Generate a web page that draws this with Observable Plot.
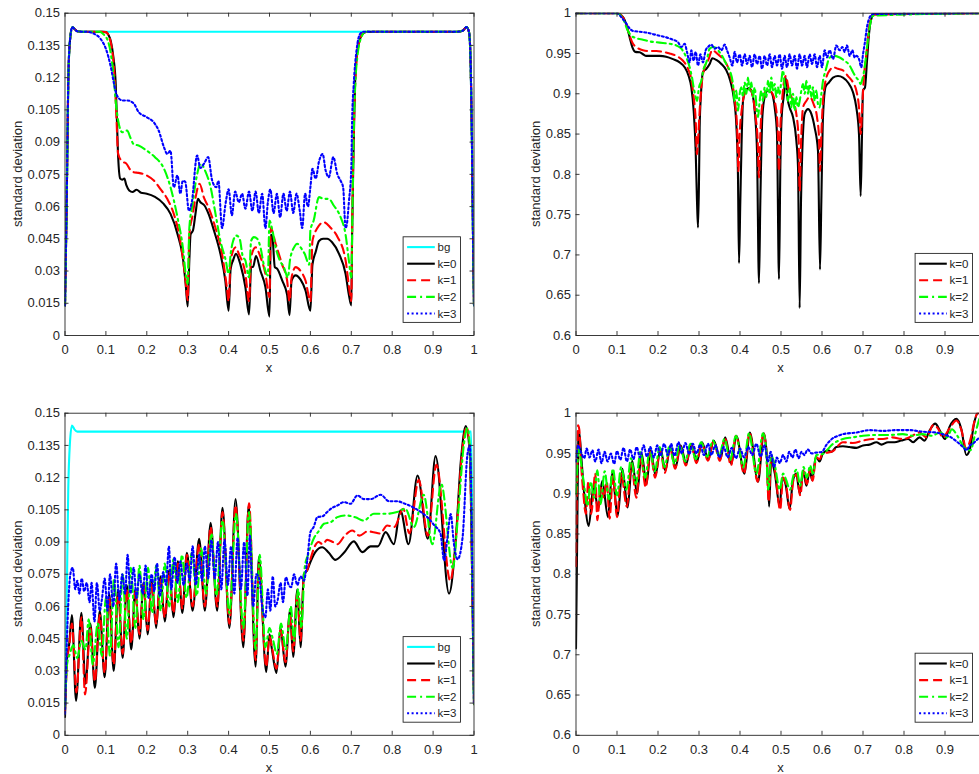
<!DOCTYPE html>
<html><head><meta charset="utf-8">
<script src="https://cdn.jsdelivr.net/npm/d3@7"></script>
<script src="https://cdn.jsdelivr.net/npm/@observablehq/plot@0.6"></script>
<style>
html,body{margin:0;padding:0;background:#fff;overflow:hidden;}
#root{position:relative;width:979px;height:774px;overflow:hidden;background:#fff;}
</style></head><body><div id="root"></div>
<script>
// ---------- tick labels ----------
const xTicks = [0,0.1,0.2,0.3,0.4,0.5,0.6,0.7,0.8,0.9,1];
const yTicksSmall = [0,0.015,0.03,0.045,0.06,0.075,0.09,0.105,0.12,0.135,0.15];
const yTicksLarge = [0.6,0.65,0.7,0.75,0.8,0.85,0.9,0.95,1];
const legendFull = ["bg","k=0","k=1","k=2","k=3"];
const legendK = ["k=0","k=1","k=2","k=3"];

// ---------- top-left panel ----------
const tlLeft = [[0,0.014],[0.004,0.06],[0.008,0.118],[0.012,0.137],[0.018,0.1435],[0.024,0.1425],[0.03,0.1416],[0.04,0.1414]];
const tlRight = [[0.96,0.1414],[0.972,0.1418],[0.982,0.1435],[0.988,0.141],[0.992,0.125],[0.995,0.09],[0.998,0.04],[1,0.014]];
const tlBg = [[0.5,0.1414]];
const tlK0 = [[0.09,0.1414],[0.1,0.1412],[0.106,0.140],[0.112,0.137],[0.118,0.130],[0.124,0.117],[0.127,0.100],[0.13,0.083],[0.135,0.073],[0.14,0.0725],[0.145,0.073],[0.15,0.070],[0.157,0.0675],[0.165,0.0668],[0.175,0.0678],[0.186,0.0664],[0.2,0.066],[0.22,0.0645],[0.24,0.0615],[0.258,0.0566],[0.275,0.0473],[0.289,0.035],[0.295,0.024],[0.3,0.0135],[0.304,0.035],[0.307,0.047],[0.313,0.049],[0.319,0.0566],[0.325,0.0636],[0.331,0.062],[0.341,0.0605],[0.351,0.0566],[0.364,0.049],[0.38,0.038],[0.392,0.0256],[0.4,0.0115],[0.405,0.031],[0.411,0.035],[0.418,0.038],[0.429,0.033],[0.441,0.0225],[0.45,0.0098],[0.455,0.0318],[0.46,0.032],[0.467,0.037],[0.478,0.030],[0.49,0.0225],[0.5,0.0088],[0.503,0.047],[0.507,0.046],[0.513,0.0318],[0.519,0.031],[0.531,0.0256],[0.543,0.019],[0.549,0.0095],[0.554,0.0256],[0.564,0.028],[0.576,0.026],[0.588,0.021],[0.6,0.0115],[0.605,0.033],[0.613,0.039],[0.621,0.044],[0.631,0.045],[0.641,0.045],[0.653,0.0434],[0.67,0.038],[0.686,0.0287],[0.694,0.019],[0.7,0.014],[0.702,0.047],[0.705,0.081],[0.708,0.109],[0.711,0.125],[0.718,0.1357],[0.73,0.1407],[0.74,0.1414]];
const tlK1 = [[0.09,0.1414],[0.1,0.1412],[0.108,0.139],[0.115,0.133],[0.12,0.124],[0.125,0.105],[0.13,0.0845],[0.14,0.081],[0.15,0.080],[0.16,0.077],[0.168,0.076],[0.18,0.0757],[0.2,0.0745],[0.218,0.072],[0.234,0.068],[0.25,0.0636],[0.266,0.0566],[0.282,0.044],[0.294,0.027],[0.3,0.0165],[0.304,0.047],[0.312,0.056],[0.319,0.064],[0.329,0.0706],[0.34,0.064],[0.35,0.060],[0.368,0.050],[0.384,0.038],[0.396,0.022],[0.4,0.016],[0.405,0.035],[0.417,0.041],[0.425,0.038],[0.441,0.0287],[0.45,0.016],[0.455,0.0365],[0.466,0.041],[0.478,0.0365],[0.49,0.0287],[0.5,0.0178],[0.503,0.050],[0.515,0.0427],[0.531,0.033],[0.543,0.0256],[0.549,0.016],[0.554,0.027],[0.564,0.0318],[0.576,0.030],[0.588,0.0256],[0.6,0.016],[0.605,0.044],[0.617,0.050],[0.633,0.0527],[0.65,0.050],[0.666,0.046],[0.686,0.035],[0.697,0.019],[0.7,0.016],[0.702,0.05],[0.705,0.085],[0.708,0.11],[0.712,0.126],[0.72,0.137],[0.73,0.1408],[0.74,0.1414]];
const tlK2 = [[0.085,0.1414],[0.095,0.140],[0.105,0.137],[0.113,0.130],[0.12,0.118],[0.124,0.109],[0.13,0.100],[0.14,0.0946],[0.152,0.0954],[0.16,0.092],[0.168,0.089],[0.18,0.0884],[0.2,0.086],[0.22,0.083],[0.242,0.0776],[0.258,0.069],[0.275,0.055],[0.289,0.0396],[0.295,0.0287],[0.3,0.024],[0.304,0.050],[0.312,0.0613],[0.323,0.075],[0.332,0.080],[0.344,0.076],[0.356,0.069],[0.368,0.0566],[0.38,0.044],[0.393,0.035],[0.4,0.0287],[0.405,0.038],[0.411,0.044],[0.419,0.0465],[0.427,0.045],[0.435,0.0365],[0.441,0.035],[0.45,0.027],[0.455,0.044],[0.462,0.0458],[0.47,0.045],[0.478,0.041],[0.486,0.033],[0.496,0.028],[0.5,0.0535],[0.507,0.049],[0.515,0.041],[0.525,0.035],[0.535,0.0318],[0.545,0.027],[0.55,0.035],[0.56,0.041],[0.568,0.0427],[0.576,0.041],[0.586,0.038],[0.597,0.033],[0.6,0.049],[0.608,0.0535],[0.621,0.0644],[0.633,0.0636],[0.645,0.0636],[0.657,0.0605],[0.674,0.055],[0.686,0.047],[0.694,0.035],[0.7,0.027],[0.703,0.06],[0.706,0.095],[0.71,0.118],[0.715,0.130],[0.725,0.139],[0.735,0.1414]];
const tlK3 = [[0.05,0.1414],[0.07,0.1405],[0.087,0.138],[0.1,0.1334],[0.112,0.125],[0.12,0.117],[0.127,0.1117],[0.14,0.1094],[0.152,0.1094],[0.168,0.108],[0.18,0.104],[0.2,0.1016],[0.218,0.099],[0.229,0.0954],[0.242,0.0876],[0.25,0.0845],[0.258,0.086],[0.266,0.069],[0.275,0.0745],[0.282,0.066],[0.288,0.072],[0.294,0.0715],[0.303,0.058],[0.31,0.062],[0.323,0.0838],[0.331,0.078],[0.34,0.080],[0.35,0.083],[0.36,0.072],[0.37,0.069],[0.375,0.072],[0.384,0.050],[0.393,0.062],[0.4,0.068],[0.408,0.056],[0.416,0.067],[0.425,0.062],[0.433,0.066],[0.441,0.059],[0.45,0.067],[0.458,0.058],[0.466,0.067],[0.474,0.057],[0.482,0.066],[0.49,0.050],[0.496,0.062],[0.502,0.068],[0.51,0.057],[0.518,0.066],[0.526,0.055],[0.534,0.066],[0.542,0.058],[0.55,0.067],[0.558,0.057],[0.566,0.066],[0.574,0.058],[0.58,0.050],[0.587,0.066],[0.594,0.060],[0.6,0.069],[0.605,0.0776],[0.613,0.073],[0.621,0.081],[0.63,0.0845],[0.637,0.077],[0.645,0.0737],[0.656,0.083],[0.666,0.075],[0.674,0.072],[0.68,0.069],[0.686,0.050],[0.69,0.053],[0.694,0.062],[0.7,0.078],[0.702,0.10],[0.706,0.117],[0.713,0.133],[0.722,0.1405],[0.73,0.1414]];

// ---------- top-right panel ----------
const trLeft = [[0,1]];
const trRight = [[1,1]];
const trK0 = [[0.1,1.0],[0.1146,0.995],[0.1244,0.983],[0.1309,0.970],[0.1374,0.958],[0.1447,0.952],[0.1553,0.9515],[0.1634,0.949],[0.1715,0.947],[0.188,0.947],[0.204,0.947],[0.22,0.946],[0.2366,0.943],[0.2528,0.939],[0.265,0.933],[0.2748,0.922],[0.2813,0.908],[0.287,0.879],[0.2919,0.829],[0.2951,0.767],[0.2976,0.734],[0.30,0.792],[0.3016,0.858],[0.3049,0.900],[0.3098,0.927],[0.3179,0.931],[0.326,0.937],[0.3325,0.944],[0.3423,0.942],[0.3545,0.937],[0.3667,0.929],[0.3764,0.916],[0.3846,0.896],[0.391,0.862],[0.395,0.800],[0.3976,0.690],[0.4008,0.767],[0.404,0.842],[0.4073,0.891],[0.4138,0.904],[0.422,0.907],[0.43,0.900],[0.4358,0.879],[0.4415,0.829],[0.4463,0.665],[0.4496,0.767],[0.4545,0.871],[0.4602,0.896],[0.4683,0.904],[0.4764,0.902],[0.4846,0.883],[0.4902,0.850],[0.4951,0.670],[0.4984,0.809],[0.5016,0.871],[0.5065,0.896],[0.5114,0.920],[0.5154,0.896],[0.5211,0.883],[0.5293,0.871],[0.5374,0.842],[0.5415,0.809],[0.5455,0.634],[0.5488,0.767],[0.552,0.829],[0.5577,0.875],[0.5659,0.881],[0.574,0.875],[0.5821,0.858],[0.5902,0.829],[0.5951,0.682],[0.5984,0.767],[0.6024,0.871],[0.6089,0.909],[0.6171,0.914],[0.6268,0.920],[0.639,0.922],[0.6512,0.920],[0.6634,0.914],[0.6756,0.902],[0.6837,0.883],[0.6902,0.850],[0.6943,0.773],[0.6976,0.850],[0.70,0.904],[0.7049,0.908],[0.7098,0.941],[0.7146,0.974],[0.7203,0.993],[0.7285,0.999]];
const trK1 = [[0.1,1.0],[0.1187,0.991],[0.1309,0.972],[0.139,0.962],[0.1472,0.958],[0.1634,0.954],[0.1797,0.953],[0.1959,0.953],[0.2122,0.952],[0.2285,0.950],[0.2447,0.947],[0.261,0.941],[0.2732,0.931],[0.2813,0.918],[0.287,0.896],[0.2919,0.867],[0.2951,0.825],[0.2976,0.842],[0.3016,0.879],[0.3065,0.912],[0.3138,0.933],[0.322,0.941],[0.3325,0.954],[0.3463,0.949],[0.3585,0.943],[0.3707,0.933],[0.3813,0.912],[0.3886,0.887],[0.3935,0.850],[0.396,0.804],[0.3992,0.850],[0.404,0.879],[0.4114,0.900],[0.4236,0.906],[0.4317,0.896],[0.4382,0.871],[0.4431,0.842],[0.4463,0.796],[0.4496,0.850],[0.4545,0.887],[0.4642,0.904],[0.4764,0.902],[0.4862,0.887],[0.4919,0.858],[0.4951,0.804],[0.4984,0.858],[0.5033,0.896],[0.5114,0.922],[0.5195,0.904],[0.5293,0.891],[0.5374,0.875],[0.5431,0.842],[0.5455,0.780],[0.5488,0.838],[0.5537,0.883],[0.5618,0.891],[0.5699,0.896],[0.5797,0.887],[0.5878,0.871],[0.5927,0.846],[0.5951,0.804],[0.5984,0.850],[0.6024,0.891],[0.6106,0.920],[0.6187,0.929],[0.6268,0.933],[0.639,0.931],[0.6512,0.929],[0.6634,0.922],[0.6756,0.914],[0.6837,0.904],[0.6902,0.883],[0.6943,0.850],[0.6976,0.879],[0.7016,0.916],[0.7081,0.949],[0.7163,0.987],[0.7244,0.998]];
const trK2 = [[0.1,1.0],[0.1146,0.993],[0.1268,0.978],[0.135,0.972],[0.1472,0.969],[0.1634,0.967],[0.1797,0.965],[0.1959,0.964],[0.2122,0.963],[0.2285,0.962],[0.2447,0.960],[0.2569,0.956],[0.2691,0.945],[0.2772,0.933],[0.2837,0.918],[0.287,0.908],[0.2919,0.896],[0.2951,0.891],[0.30,0.908],[0.3057,0.916],[0.3114,0.931],[0.3179,0.939],[0.326,0.956],[0.3358,0.958],[0.3463,0.954],[0.3585,0.945],[0.3683,0.935],[0.3764,0.927],[0.3829,0.912],[0.387,0.891],[0.391,0.904],[0.3951,0.879],[0.3992,0.900],[0.4033,0.908],[0.4073,0.896],[0.4114,0.914],[0.4154,0.900],[0.4195,0.920],[0.4236,0.904],[0.4276,0.914],[0.4317,0.896],[0.4358,0.908],[0.4398,0.887],[0.4439,0.871],[0.448,0.891],[0.452,0.904],[0.4561,0.891],[0.4602,0.908],[0.4642,0.896],[0.4683,0.916],[0.4724,0.900],[0.4764,0.920],[0.4805,0.904],[0.4846,0.912],[0.4886,0.896],[0.4927,0.908],[0.4967,0.900],[0.5008,0.916],[0.5049,0.929],[0.5089,0.912],[0.513,0.904],[0.5171,0.891],[0.5211,0.908],[0.5252,0.883],[0.5293,0.900],[0.5333,0.879],[0.5374,0.896],[0.5415,0.883],[0.5455,0.891],[0.5496,0.904],[0.5537,0.912],[0.5577,0.900],[0.5618,0.916],[0.5659,0.900],[0.5699,0.912],[0.574,0.896],[0.5781,0.908],[0.5821,0.891],[0.5862,0.904],[0.5902,0.887],[0.5943,0.883],[0.5984,0.900],[0.6024,0.916],[0.6089,0.929],[0.6187,0.945],[0.6309,0.947],[0.6431,0.945],[0.6553,0.941],[0.6675,0.935],[0.6756,0.927],[0.6837,0.920],[0.6902,0.916],[0.6943,0.912],[0.6984,0.918],[0.7041,0.933],[0.7098,0.958],[0.7163,0.983],[0.7244,0.997]];
const trK3 = [[0.1,1.0],[0.1106,0.995],[0.1228,0.987],[0.1309,0.981],[0.139,0.978],[0.1553,0.977],[0.1715,0.976],[0.1878,0.974],[0.2041,0.972],[0.2203,0.970],[0.2366,0.967],[0.2488,0.964],[0.2569,0.958],[0.265,0.962],[0.2707,0.952],[0.2772,0.939],[0.2813,0.954],[0.287,0.941],[0.2919,0.952],[0.2976,0.935],[0.3033,0.949],[0.3098,0.939],[0.3163,0.954],[0.322,0.958],[0.3301,0.961],[0.3382,0.956],[0.3463,0.958],[0.3545,0.954],[0.3626,0.961],[0.3683,0.954],[0.3748,0.945],[0.3813,0.935],[0.387,0.952],[0.3927,0.939],[0.3992,0.949],[0.4049,0.935],[0.4114,0.949],[0.4171,0.937],[0.4236,0.947],[0.4293,0.933],[0.4358,0.949],[0.4415,0.937],[0.448,0.947],[0.4537,0.931],[0.4602,0.947],[0.4659,0.935],[0.4724,0.949],[0.478,0.933],[0.4846,0.947],[0.4902,0.935],[0.4967,0.949],[0.5024,0.931],[0.5089,0.947],[0.5146,0.933],[0.5211,0.949],[0.5268,0.935],[0.5333,0.947],[0.539,0.931],[0.5455,0.949],[0.5512,0.935],[0.5577,0.947],[0.5634,0.933],[0.5699,0.949],[0.5756,0.937],[0.5821,0.949],[0.5878,0.933],[0.5943,0.947],[0.60,0.933],[0.6065,0.954],[0.6122,0.945],[0.6187,0.954],[0.6268,0.943],[0.635,0.960],[0.6431,0.954],[0.6496,0.958],[0.6553,0.952],[0.661,0.960],[0.6675,0.947],[0.674,0.954],[0.6797,0.945],[0.6837,0.947],[0.6902,0.943],[0.6959,0.933],[0.70,0.949],[0.7041,0.962],[0.7098,0.983],[0.7163,0.995],[0.7244,0.999]];

// ---------- bottom-left panel ----------
const blBg = [[0,0.014],[0.004,0.06],[0.008,0.115],[0.012,0.136],[0.017,0.1443],[0.023,0.1425],[0.03,0.1414],[0.993,0.1414],[0.996,0.09],[0.998,0.04],[1,0.0145]];
const blK0 = [[0,0.0085],[0.005,0.036],[0.01,0.042],[0.017,0.056],[0.027,0.016],[0.04,0.057],[0.05,0.024],[0.062,0.052],[0.073,0.022],[0.085,0.058],[0.097,0.027],[0.108,0.066],[0.119,0.030],[0.13,0.068],[0.141,0.036],[0.151,0.070],[0.162,0.040],[0.172,0.068],[0.182,0.045],[0.192,0.071],[0.202,0.047],[0.212,0.072],[0.223,0.050],[0.233,0.074],[0.244,0.053],[0.255,0.077],[0.265,0.055],[0.276,0.081],[0.287,0.057],[0.298,0.085],[0.312,0.058],[0.328,0.0915],[0.342,0.058],[0.356,0.099],[0.372,0.058],[0.385,0.106],[0.402,0.050],[0.417,0.110],[0.436,0.041],[0.449,0.107],[0.466,0.032],[0.474,0.083],[0.492,0.0295],[0.50,0.047],[0.506,0.040],[0.517,0.029],[0.527,0.050],[0.539,0.032],[0.55,0.058],[0.558,0.0365],[0.568,0.068],[0.576,0.041],[0.584,0.075],[0.592,0.0768],[0.6,0.0807],[0.612,0.0853],[0.629,0.0876],[0.645,0.085],[0.661,0.0817],[0.682,0.085],[0.706,0.0903],[0.727,0.0853],[0.747,0.088],[0.765,0.088],[0.784,0.0946],[0.804,0.089],[0.82,0.1047],[0.84,0.089],[0.862,0.121],[0.887,0.0915],[0.906,0.130],[0.939,0.066],[0.955,0.09],[0.968,0.128],[0.98,0.144],[0.99,0.13],[0.995,0.08],[1,0.0145]];
const blK1 = [[0,0.011],[0.005,0.035],[0.01,0.041],[0.017,0.052],[0.028,0.020],[0.04,0.055],[0.049,0.019],[0.062,0.050],[0.073,0.025],[0.085,0.056],[0.097,0.029],[0.108,0.064],[0.119,0.033],[0.13,0.066],[0.141,0.038],[0.151,0.068],[0.162,0.043],[0.172,0.067],[0.182,0.047],[0.192,0.070],[0.202,0.049],[0.212,0.071],[0.223,0.052],[0.233,0.073],[0.244,0.055],[0.255,0.076],[0.265,0.057],[0.276,0.080],[0.287,0.059],[0.298,0.084],[0.312,0.060],[0.328,0.089],[0.342,0.060],[0.356,0.097],[0.372,0.060],[0.385,0.104],[0.402,0.052],[0.417,0.107],[0.436,0.044],[0.45,0.108],[0.466,0.035],[0.474,0.080],[0.492,0.032],[0.50,0.046],[0.506,0.041],[0.517,0.031],[0.527,0.049],[0.539,0.034],[0.55,0.056],[0.558,0.039],[0.568,0.066],[0.576,0.044],[0.584,0.074],[0.592,0.077],[0.6,0.082],[0.61,0.0877],[0.62,0.090],[0.63,0.089],[0.641,0.091],[0.655,0.090],[0.666,0.089],[0.684,0.093],[0.702,0.0954],[0.72,0.093],[0.74,0.095],[0.755,0.0946],[0.77,0.094],[0.788,0.0977],[0.805,0.097],[0.827,0.1055],[0.842,0.094],[0.865,0.119],[0.887,0.093],[0.908,0.126],[0.942,0.072],[0.957,0.095],[0.97,0.13],[0.982,0.1435],[0.99,0.13],[0.995,0.08],[1,0.0145]];
const blK2 = [[0,0.013],[0.005,0.033],[0.012,0.038],[0.02,0.042],[0.03,0.036],[0.04,0.044],[0.05,0.040],[0.058,0.054],[0.068,0.033],[0.08,0.052],[0.09,0.037],[0.1,0.064],[0.11,0.037],[0.12,0.073],[0.131,0.041],[0.141,0.075],[0.151,0.045],[0.161,0.078],[0.172,0.050],[0.182,0.079],[0.192,0.054],[0.203,0.078],[0.213,0.057],[0.223,0.079],[0.234,0.058],[0.244,0.080],[0.255,0.060],[0.265,0.082],[0.276,0.062],[0.286,0.084],[0.297,0.064],[0.31,0.085],[0.322,0.065],[0.333,0.087],[0.345,0.066],[0.358,0.094],[0.37,0.065],[0.385,0.100],[0.402,0.057],[0.418,0.103],[0.436,0.050],[0.45,0.104],[0.466,0.040],[0.476,0.084],[0.49,0.041],[0.50,0.050],[0.508,0.045],[0.518,0.038],[0.528,0.052],[0.54,0.040],[0.552,0.060],[0.56,0.044],[0.57,0.068],[0.578,0.050],[0.586,0.078],[0.594,0.084],[0.6,0.0876],[0.61,0.0923],[0.62,0.095],[0.633,0.0985],[0.65,0.0993],[0.666,0.1016],[0.686,0.1024],[0.71,0.1015],[0.731,0.100],[0.755,0.1032],[0.788,0.1032],[0.812,0.104],[0.832,0.1055],[0.853,0.097],[0.877,0.112],[0.898,0.089],[0.92,0.117],[0.948,0.078],[0.962,0.105],[0.975,0.135],[0.984,0.143],[0.991,0.13],[0.996,0.07],[1,0.0145]];
const blK3 = [[0,0.010],[0.004,0.04],[0.009,0.065],[0.014,0.076],[0.019,0.078],[0.025,0.068],[0.03,0.072],[0.035,0.066],[0.041,0.073],[0.047,0.067],[0.053,0.071],[0.06,0.062],[0.065,0.071],[0.072,0.053],[0.078,0.071],[0.085,0.058],[0.09,0.063],[0.097,0.073],[0.104,0.058],[0.11,0.075],[0.118,0.060],[0.125,0.080],[0.133,0.063],[0.14,0.075],[0.147,0.066],[0.153,0.084],[0.16,0.066],[0.168,0.078],[0.175,0.064],[0.182,0.075],[0.19,0.066],[0.197,0.079],[0.204,0.064],[0.212,0.075],[0.218,0.067],[0.225,0.080],[0.232,0.065],[0.24,0.076],[0.247,0.070],[0.254,0.088],[0.26,0.068],[0.268,0.083],[0.275,0.071],[0.282,0.081],[0.29,0.070],[0.298,0.080],[0.305,0.072],[0.312,0.088],[0.32,0.070],[0.328,0.084],[0.335,0.072],[0.342,0.088],[0.35,0.073],[0.358,0.091],[0.366,0.073],[0.374,0.090],[0.382,0.068],[0.39,0.091],[0.398,0.070],[0.406,0.088],[0.414,0.066],[0.422,0.092],[0.43,0.068],[0.438,0.090],[0.446,0.065],[0.452,0.093],[0.46,0.060],[0.468,0.075],[0.476,0.072],[0.482,0.060],[0.49,0.055],[0.496,0.068],[0.502,0.058],[0.508,0.074],[0.514,0.060],[0.52,0.063],[0.527,0.071],[0.533,0.062],[0.54,0.0736],[0.547,0.070],[0.553,0.069],[0.56,0.075],[0.568,0.070],[0.576,0.074],[0.584,0.072],[0.592,0.081],[0.6,0.0946],[0.608,0.097],[0.617,0.1016],[0.63,0.102],[0.641,0.104],[0.654,0.106],[0.666,0.107],[0.682,0.1086],[0.698,0.1078],[0.715,0.1117],[0.731,0.110],[0.747,0.110],[0.772,0.112],[0.792,0.109],[0.812,0.109],[0.829,0.108],[0.853,0.106],[0.87,0.104],[0.886,0.1016],[0.902,0.098],[0.918,0.094],[0.927,0.0814],[0.935,0.092],[0.943,0.103],[0.951,0.089],[0.96,0.082],[0.972,0.092],[0.984,0.131],[0.99,0.135],[0.995,0.09],[1,0.0145]];

// ---------- bottom-right panel ----------
const brK0 = [[0,0.708],[0.003,0.85],[0.006,0.972],[0.008,0.976],[0.013,0.945],[0.02,0.900],[0.031,0.860],[0.043,0.910],[0.054,0.881],[0.064,0.916],[0.078,0.871],[0.088,0.925],[0.102,0.873],[0.113,0.931],[0.126,0.883],[0.137,0.941],[0.149,0.900],[0.16,0.950],[0.172,0.912],[0.182,0.954],[0.194,0.923],[0.206,0.956],[0.218,0.929],[0.23,0.958],[0.243,0.933],[0.255,0.960],[0.269,0.937],[0.281,0.962],[0.295,0.940],[0.307,0.964],[0.323,0.943],[0.336,0.966],[0.352,0.943],[0.364,0.970],[0.379,0.937],[0.391,0.972],[0.411,0.925],[0.424,0.976],[0.444,0.915],[0.458,0.975],[0.465,0.95],[0.471,0.884],[0.476,0.941],[0.485,0.925],[0.497,0.884],[0.503,0.920],[0.511,0.912],[0.521,0.881],[0.529,0.916],[0.537,0.925],[0.546,0.900],[0.554,0.929],[0.562,0.910],[0.57,0.929],[0.576,0.917],[0.585,0.946],[0.594,0.940],[0.602,0.950],[0.615,0.954],[0.623,0.952],[0.635,0.958],[0.651,0.959],[0.667,0.958],[0.684,0.957],[0.7,0.960],[0.716,0.961],[0.733,0.964],[0.745,0.961],[0.761,0.964],[0.777,0.964],[0.793,0.966],[0.81,0.968],[0.822,0.964],[0.838,0.970],[0.85,0.966],[0.863,0.979],[0.876,0.987],[0.889,0.977],[0.9,0.968],[0.911,0.983],[0.928,0.993],[0.94,0.980],[0.952,0.948],[0.96,0.954],[0.972,0.990],[0.98,1.0],[1,1.0]];
const brK1 = [[0,0.81],[0.003,0.93],[0.005,0.985],[0.008,0.98],[0.012,0.94],[0.018,0.90],[0.024,0.875],[0.03,0.915],[0.037,0.875],[0.047,0.925],[0.052,0.867],[0.06,0.91],[0.068,0.895],[0.075,0.915],[0.082,0.869],[0.09,0.922],[0.1,0.871],[0.11,0.925],[0.124,0.884],[0.135,0.937],[0.147,0.895],[0.158,0.946],[0.17,0.908],[0.181,0.952],[0.193,0.920],[0.205,0.955],[0.217,0.926],[0.229,0.957],[0.242,0.931],[0.254,0.959],[0.268,0.935],[0.28,0.961],[0.294,0.938],[0.306,0.963],[0.322,0.941],[0.335,0.965],[0.351,0.941],[0.363,0.969],[0.378,0.935],[0.39,0.972],[0.41,0.925],[0.423,0.976],[0.443,0.915],[0.457,0.975],[0.464,0.955],[0.47,0.89],[0.476,0.945],[0.485,0.93],[0.498,0.88],[0.505,0.92],[0.512,0.912],[0.522,0.880],[0.53,0.916],[0.538,0.924],[0.547,0.898],[0.555,0.928],[0.563,0.912],[0.571,0.93],[0.577,0.916],[0.586,0.945],[0.595,0.943],[0.6,0.949],[0.627,0.953],[0.651,0.964],[0.675,0.963],[0.7,0.966],[0.724,0.968],[0.749,0.968],[0.771,0.970],[0.797,0.968],[0.813,0.970],[0.838,0.976],[0.855,0.970],[0.871,0.985],[0.883,0.981],[0.894,0.970],[0.911,0.981],[0.928,0.991],[0.94,0.979],[0.952,0.956],[0.96,0.964],[0.972,0.99],[0.98,1.001],[1,1.0]];
const brK2 = [[0,0.90],[0.004,0.94],[0.007,0.958],[0.012,0.94],[0.02,0.91],[0.028,0.885],[0.036,0.915],[0.044,0.895],[0.052,0.929],[0.06,0.887],[0.07,0.928],[0.08,0.893],[0.09,0.931],[0.1,0.898],[0.11,0.933],[0.123,0.905],[0.134,0.944],[0.146,0.912],[0.157,0.952],[0.169,0.920],[0.18,0.956],[0.192,0.928],[0.204,0.958],[0.216,0.933],[0.228,0.959],[0.24,0.937],[0.253,0.960],[0.266,0.940],[0.279,0.962],[0.292,0.943],[0.305,0.964],[0.32,0.946],[0.334,0.966],[0.349,0.947],[0.362,0.968],[0.376,0.942],[0.39,0.972],[0.408,0.933],[0.422,0.975],[0.44,0.925],[0.456,0.975],[0.463,0.96],[0.469,0.905],[0.476,0.948],[0.485,0.935],[0.497,0.905],[0.505,0.925],[0.512,0.918],[0.522,0.905],[0.53,0.922],[0.538,0.93],[0.547,0.910],[0.555,0.933],[0.563,0.92],[0.571,0.935],[0.578,0.925],[0.586,0.948],[0.6,0.949],[0.627,0.962],[0.651,0.968],[0.675,0.970],[0.7,0.972],[0.733,0.973],[0.765,0.973],[0.797,0.974],[0.82,0.972],[0.845,0.974],[0.867,0.972],[0.889,0.976],[0.905,0.970],[0.917,0.980],[0.93,0.972],[0.946,0.958],[0.962,0.954],[0.974,0.975],[0.986,0.995],[1,1.0]];
const brK3 = [[0,0.94],[0.005,0.96],[0.012,0.952],[0.02,0.944],[0.026,0.956],[0.033,0.945],[0.04,0.954],[0.047,0.94],[0.055,0.955],[0.062,0.938],[0.07,0.952],[0.077,0.94],[0.085,0.95],[0.093,0.937],[0.1,0.953],[0.108,0.942],[0.116,0.957],[0.124,0.94],[0.132,0.955],[0.14,0.943],[0.148,0.958],[0.156,0.945],[0.165,0.96],[0.173,0.946],[0.181,0.958],[0.19,0.945],[0.198,0.96],[0.206,0.947],[0.215,0.962],[0.224,0.948],[0.232,0.962],[0.24,0.947],[0.25,0.964],[0.258,0.95],[0.267,0.963],[0.276,0.949],[0.285,0.962],[0.294,0.95],[0.303,0.961],[0.312,0.948],[0.322,0.962],[0.33,0.948],[0.34,0.96],[0.35,0.945],[0.36,0.958],[0.37,0.945],[0.38,0.957],[0.39,0.944],[0.4,0.956],[0.41,0.945],[0.42,0.958],[0.43,0.948],[0.44,0.962],[0.45,0.946],[0.46,0.96],[0.468,0.94],[0.475,0.952],[0.483,0.933],[0.49,0.945],[0.497,0.938],[0.505,0.948],[0.513,0.94],[0.52,0.952],[0.528,0.945],[0.535,0.955],[0.543,0.944],[0.55,0.952],[0.557,0.948],[0.565,0.955],[0.575,0.950],[0.585,0.951],[0.6,0.952],[0.61,0.96],[0.624,0.968],[0.64,0.972],[0.651,0.974],[0.684,0.976],[0.716,0.979],[0.749,0.978],[0.781,0.979],[0.813,0.979],[0.846,0.977],[0.878,0.976],[0.9,0.973],[0.911,0.971],[0.928,0.965],[0.944,0.958],[0.953,0.954],[0.96,0.96],[0.968,0.962],[0.98,0.968],[1,0.975]];

// ---------- rendering ----------
const FONT = "'Liberation Sans', Arial, Helvetica, sans-serif";
const INK = "#262626";
const STY = {
  "bg":  {stroke: "#00ffff", dash: undefined},
  "k=0": {stroke: "#000000", dash: undefined},
  "k=1": {stroke: "#ff0000", dash: "9,5"},
  "k=2": {stroke: "#00ff00", dash: "9,4,2,4"},
  "k=3": {stroke: "#0000ff", dash: "2,2.5"}
};
const LW = 2.1;
const root = document.getElementById("root");

function makePanel(cfg) {
  const {left, top, width, height, mL, mR, mT, mB, yDomain, yTicks, series, legend, yLabelX, cutRight} = cfg;
  const fw = width - mL - mR, fh = height - mT - mB;
  const fmt = d => String(d);
  const labelTicks = cutRight ? xTicks.filter(d => d < 1) : xTicks;
  const lines = series.map(s => Plot.line(s.data, {
    x: d => d[0], y: d => d[1], stroke: STY[s.key].stroke, strokeWidth: LW,
    strokeDasharray: STY[s.key].dash, clip: true, strokeLinejoin: "round", curve: "monotone-x"
  }));
  const svg = Plot.plot({
    width, height, marginLeft: mL, marginRight: mR, marginTop: mT, marginBottom: mB,
    x: {domain: [0, 1]},
    y: {domain: yDomain},
    style: {fontFamily: FONT, fontSize: "13px", color: INK, background: "#fff", overflow: "visible"},
    marks: [
      ...lines,
      Plot.frame({stroke: INK, strokeWidth: 0.9}),
      Plot.ruleX(xTicks, {x: d => d, insetTop: fh - 4, stroke: INK, strokeWidth: 0.9}),
      Plot.ruleX(xTicks, {x: d => d, insetBottom: fh - 4, stroke: INK, strokeWidth: 0.9}),
      Plot.ruleY(yTicks, {y: d => d, insetRight: fw - 4, stroke: INK, strokeWidth: 0.9}),
      Plot.ruleY(yTicks, {y: d => d, insetLeft: fw - 4, stroke: INK, strokeWidth: 0.9}),
      Plot.axisX({ticks: labelTicks, tickSize: 0, tickPadding: 9, tickFormat: fmt, label: null, fontSize: 13, fill: INK}),
      Plot.axisY({ticks: yTicks, tickSize: 0, tickPadding: 5, tickFormat: fmt, label: null, fontSize: 13, fill: INK})
    ]
  });
  svg.style.position = "absolute";
  svg.style.left = left + "px";
  svg.style.top = top + "px";
  const g = d3.select(svg);
  // axis titles
  g.append("text").attr("x", mL + fw / 2).attr("y", mT + fh + 32.5)
    .attr("text-anchor", "middle").attr("dominant-baseline", "central")
    .attr("font-family", FONT).attr("font-size", 13).attr("fill", INK).text("x");
  g.append("text").attr("transform", `translate(${yLabelX},${mT + fh / 2}) rotate(-90)`)
    .attr("text-anchor", "middle").attr("dominant-baseline", "central")
    .attr("font-family", FONT).attr("font-size", 13).attr("fill", INK).text("standard deviation");
  // legend
  const rowH = 16.6, bw = 57.4, bh = rowH * legend.length + 2.6;
  const bx = mL + fw - 13 - bw, by = mT + fh - 12.6 - bh;
  const lg = g.append("g").attr("text-anchor", "start");
  lg.append("rect").attr("x", bx).attr("y", by).attr("width", bw).attr("height", bh)
    .attr("fill", "#fff").attr("stroke", INK).attr("stroke-width", 0.9);
  legend.forEach((name, i) => {
    const cy = by + 10.3 + i * rowH;
    lg.append("line").attr("x1", bx + 4).attr("x2", bx + 31.7).attr("y1", cy).attr("y2", cy)
      .attr("stroke", STY[name].stroke).attr("stroke-width", LW)
      .attr("stroke-dasharray", STY[name].dash || null);
    lg.append("text").attr("x", bx + 34.4).attr("y", cy).attr("dominant-baseline", "central")
      .attr("text-anchor", "start")
      .attr("font-family", FONT).attr("font-size", 11.5).attr("fill", INK).text(name);
  });
  root.appendChild(svg);
}

makePanel({left: 0, top: 0, width: 490, height: 385, mL: 64.5, mR: 16.5, mT: 12.7, mB: 50,
  yDomain: [0, 0.15], yTicks: yTicksSmall, legend: legendFull, yLabelX: 17,
  series: [
    {key: "bg", data: tlLeft.concat(tlBg, tlRight)},
    {key: "k=0", data: tlLeft.concat(tlK0, tlRight)},
    {key: "k=1", data: tlLeft.concat(tlK1, tlRight)},
    {key: "k=2", data: tlLeft.concat(tlK2, tlRight)},
    {key: "k=3", data: tlLeft.concat(tlK3, tlRight)}
  ]});
makePanel({left: 490, top: 0, width: 500, height: 385, mL: 85.5, mR: 4.5, mT: 12.7, mB: 50,
  yDomain: [0.6, 1], yTicks: yTicksLarge, legend: legendK, yLabelX: 45, cutRight: true,
  series: [
    {key: "k=0", data: trLeft.concat(trK0, trRight)},
    {key: "k=1", data: trLeft.concat(trK1, trRight)},
    {key: "k=2", data: trLeft.concat(trK2, trRight)},
    {key: "k=3", data: trLeft.concat(trK3, trRight)}
  ]});
makePanel({left: 0, top: 385, width: 490, height: 389, mL: 64.5, mR: 16.5, mT: 27.7, mB: 39.2,
  yDomain: [0, 0.15], yTicks: yTicksSmall, legend: legendFull, yLabelX: 17,
  series: [
    {key: "bg", data: blBg},
    {key: "k=0", data: blK0},
    {key: "k=1", data: blK1},
    {key: "k=2", data: blK2},
    {key: "k=3", data: blK3}
  ]});
makePanel({left: 490, top: 385, width: 500, height: 389, mL: 85.5, mR: 4.5, mT: 27.7, mB: 39.2,
  yDomain: [0.6, 1], yTicks: yTicksLarge, legend: legendK, yLabelX: 45, cutRight: true,
  series: [
    {key: "k=0", data: brK0},
    {key: "k=1", data: brK1},
    {key: "k=2", data: brK2},
    {key: "k=3", data: brK3}
  ]});
</script>
</body></html>
